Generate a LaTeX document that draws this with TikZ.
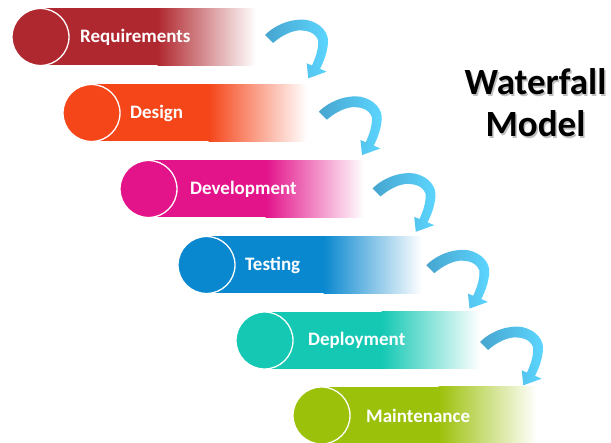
\documentclass[tikz,border=0pt]{standalone}
\usepackage{fontspec}
\setmainfont{Carlito}
\definecolor{creq}{RGB}{176,40,47}
\definecolor{cdes}{RGB}{245,70,26}
\definecolor{cdev}{RGB}{227,19,138}
\definecolor{ctes}{RGB}{10,136,207}
\definecolor{cdep}{RGB}{20,200,180}
\definecolor{cmai}{RGB}{156,193,10}
\definecolor{arrA}{RGB}{70,165,207}
\definecolor{arrB}{RGB}{92,214,255}
\tikzset{
  stagetext/.style={font=\bfseries\fontsize{19}{22}\selectfont, text=white, anchor=west, inner sep=0pt},
  stagecircle/.style={circle, draw=white, line width=1.3pt, minimum size=57pt, inner sep=0pt},
  titletext/.style={font=\bfseries\fontsize{37}{42}\selectfont, anchor=base, inner sep=0pt},
  flowarrow/.pic={
    \shade[left color=arrA, right color=arrB]
      (0,0) .. controls (12,-12) and (30,-17) .. (42,-15)
      .. controls (56,-12) and (64,-2) .. (63,8)
      .. controls (62,18) and (59,26) .. (55,33.8)
      -- (61.7,36.7) -- (43.3,43.3) -- (41.7,28.3) -- (47,30.5)
      .. controls (51,22) and (54,12) .. (53,5)
      .. controls (50,-3) and (41,-5) .. (33,-4.5)
      .. controls (24,-3.5) and (15,2) .. (8,8) -- cycle;
  }
}
\begin{document}
\begin{tikzpicture}[x=1pt, y=-1pt]
\fill[white] (0,0) rectangle (611,443);
\useasboundingbox (0,0) rectangle (611,443);
\foreach \nm/\xo/\yc/\col/\tx/\txt in {
  req/12/37/creq/80/Requirements,
  des/63/113/cdes/130/Design,
  dev/120/189/cdev/190/Development,
  tes/178/265/ctes/245/Testing,
  dep/236/340.5/cdep/308/Deployment,
  mai/293/415.5/cmai/366/Maintenance} {
  \fill[\col] (\xo+28.5,\yc-28.5) rectangle (\xo+146,\yc+28.5);
  \shade[left color=\col, right color=white] (\xo+145.5,\yc-28.5) rectangle (\xo+244,\yc+28.5);
  \node[stagecircle, fill=\col] (\nm c) at (\xo+28.5,\yc) {};
  \node[stagetext] (\nm) at (\tx,\yc) {\txt};
}
\foreach \i in {0,...,4} {
  \pic at (265+53.75*\i, 35+76.75*\i) {flowarrow};
}
\node[titletext, text=black!35, opacity=0.7] at (537,96.5) {Waterfall};
\node[titletext, text=black!35, opacity=0.7] at (537,138.5) {Model};
\node[titletext] (t1) at (535.5,95) {Waterfall};
\node[titletext] (t2) at (535.5,137) {Model};
\end{tikzpicture}
\end{document}
